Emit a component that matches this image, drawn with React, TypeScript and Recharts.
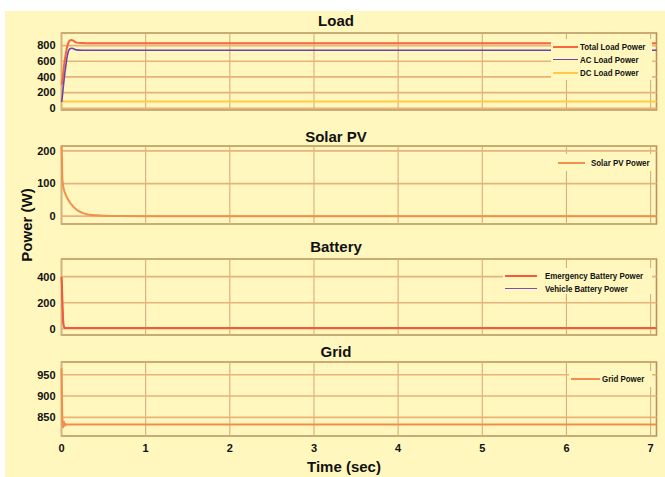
import React from 'react';
import { LineChart, Line, XAxis, YAxis, ReferenceLine, ReferenceArea } from 'recharts';

// Simulation time base (s): dense near start-up, sparse once steady
const time = [0, 0.005, 0.01, 0.02, 0.03, 0.04, 0.05, 0.06, 0.08, 0.1, 0.12, 0.14, 0.16, 0.2, 0.25, 0.3, 0.4, 0.5, 0.7, 1, 2, 3, 4, 5, 6, 7, 7.07];

// Load powers (W)
const totalLoadPower = [300, 320, 360, 450, 540, 620, 690, 750, 830, 865, 872, 862, 848, 834, 831, 830, 830, 830, 830, 830, 830, 830, 830, 830, 830, 830, 830];
const acLoadPower = [80, 100, 150, 260, 360, 450, 530, 610, 720, 760, 766, 760, 750, 742, 740, 740, 740, 740, 740, 740, 740, 740, 740, 740, 740, 740, 740];
const dcLoadPower = [85, 85, 85, 85, 85, 85, 85, 85, 85, 85, 85, 85, 85, 85, 85, 85, 85, 85, 85, 85, 85, 85, 85, 85, 85, 85, 85];

// Solar PV power (W)
const solarPvPower = [215, 180, 115, 92, 80, 72, 66, 60, 50, 42, 35, 29, 24, 16, 10, 6, 3, 1, 0.3, 0, 0, 0, 0, 0, 0, 0, 0];

// Battery powers (W)
const emergencyBatteryPower = [400, 330, 230, 60, 15, 8, 6, 5, 5, 5, 5, 5, 5, 5, 5, 5, 5, 5, 5, 5, 5, 5, 5, 5, 5, 5, 5];
const vehicleBatteryPower = [380, 300, 200, 50, 10, 4, 3, 3, 3, 3, 3, 3, 3, 3, 3, 3, 3, 3, 3, 3, 3, 3, 3, 3, 3, 3, 3];

// Grid power (W)
const gridPower = [965, 900, 845, 826, 840, 830, 834, 833, 833, 833, 833, 833, 833, 833, 833, 833, 833, 833, 833, 833, 833, 833, 833, 833, 833, 833, 833];

// Axis ticks
const timeTicks = [0, 1, 2, 3, 4, 5, 6, 7];
const loadTicks = [0, 200, 400, 600, 800];
const solarTicks = [0, 100, 200];
const batteryTicks = [0, 200, 400];
const gridTicks = [850, 900, 950];

const data = time.map((t, i) => ({
  t,
  total: totalLoadPower[i],
  ac: acLoadPower[i],
  dc: dcLoadPower[i],
  pv: solarPvPower[i],
  emergency: emergencyBatteryPower[i],
  vehicle: vehicleBatteryPower[i],
  grid: gridPower[i],
}));

const BG = '#FFF7BE';
const FONT = '"Liberation Sans", Arial, sans-serif';
const X_MAX = 7.07;

type Series = { key: string; name: string; color: string; width: number };

type LegendBox = {
  left: number; top: number; width: number; height: number;
  lineLeft: number; lineWidth: number; textLeft: number; rowTops: number[];
};

type PanelProps = {
  title: string;
  titleTop: number;
  top: number;
  plotHeight: number;
  domain: [number, number];
  ticks: number[];
  series: Series[];
  legendOrder: string[];
  legend: LegendBox;
  showTime?: boolean;
};

function Panel({ title, titleTop, top, plotHeight, domain, ticks, series, legendOrder, legend, showTime }: PanelProps) {
  const marginTop = 5;
  const xAxisHeight = showTime ? 22 : 0;
  const marginBottom = showTime ? 0 : 5;
  const height = marginTop + plotHeight + xAxisHeight + marginBottom;
  const legendSeries = legendOrder.map((k) => series.find((s) => s.key === k)!);
  return (
    <>
      <div
        style={{
          position: 'absolute', left: 0, width: 672, top: titleTop, textAlign: 'center',
          fontFamily: FONT, fontWeight: 700, fontSize: 15, color: '#111', lineHeight: '18px',
        }}
      >
        {title}
      </div>
      <div style={{ position: 'absolute', left: 0, top: top - marginTop }}>
        <LineChart width={665} height={height} data={data} margin={{ top: marginTop, right: 8.5, bottom: marginBottom, left: 21.5 }}>
          <XAxis
            dataKey="t"
            type="number"
            domain={[0, X_MAX]}
            ticks={timeTicks}
            interval={0}
            hide={!showTime}
            height={xAxisHeight}
            axisLine={false}
            tickLine={false}
            tickSize={0}
            tickMargin={8}
            tick={{ fontSize: 11, fontWeight: 700, fill: '#111', fontFamily: FONT }}
          />
          <YAxis
            type="number"
            domain={domain}
            ticks={ticks}
            interval={0}
            width={40}
            axisLine={false}
            tickLine={false}
            tickSize={0}
            tickMargin={6}
            allowDataOverflow
            tick={{ fontSize: 11, fontWeight: 700, fill: '#111', fontFamily: FONT }}
          />
          {timeTicks.map((v) => (
            <ReferenceLine key={`vx${v}`} x={v} stroke="#D8AE7C" strokeWidth={1.1} ifOverflow="visible" />
          ))}
          {ticks.map((v) => (
            <ReferenceLine key={`hy${v}`} y={v} stroke="#E8B27C" strokeWidth={1.7} />
          ))}
          {series.map((s) => (
            <Line
              key={s.key}
              dataKey={s.key}
              name={s.name}
              type="monotone"
              stroke={s.color}
              strokeWidth={s.width}
              dot={false}
              activeDot={false}
              isAnimationActive={false}
            />
          ))}
          <ReferenceArea
            x1={0}
            x2={X_MAX}
            y1={domain[0]}
            y2={domain[1]}
            fill="none"
            stroke="#B8925C"
            strokeWidth={1.6}
            ifOverflow="visible"
          />
        </LineChart>
      </div>
      <div
        style={{
          position: 'absolute', left: legend.left, top: legend.top, width: legend.width, height: legend.height,
          background: BG,
        }}
      >
        {legendSeries.map((s, i) => (
          <div key={s.key}>
            <div
              style={{
                position: 'absolute', left: legend.lineLeft - legend.left, top: legend.rowTops[i] - legend.top - 1,
                width: legend.lineWidth, height: 0, borderTop: `${Math.max(1.5, s.width)}px solid ${s.color}`,
              }}
            />
            <div
              style={{
                position: 'absolute', left: legend.textLeft - legend.left, top: legend.rowTops[i] - legend.top - 6,
                fontFamily: FONT, fontWeight: 700, fontSize: 9, lineHeight: '12px', color: '#111', whiteSpace: 'nowrap',
                transform: 'scaleX(0.88)', transformOrigin: 'left center',
              }}
            >
              {s.name}
            </div>
          </div>
        ))}
      </div>
    </>
  );
}

export default function App() {
  return (
    <div style={{ position: 'absolute', left: 0, top: 0, width: 665, height: 477, background: '#fff', overflow: 'hidden' }}>
      <div style={{ position: 'absolute', left: 5, top: 11, width: 660, height: 466, background: BG }} />

      <Panel
        title="Load"
        titleTop={12}
        top={33}
        plotHeight={77}
        domain={[-22, 960]}
        ticks={loadTicks}
        series={[
          { key: 'dc', name: 'DC Load Power', color: '#FFC94A', width: 2 },
          { key: 'total', name: 'Total Load Power', color: '#F4673F', width: 2 },
          { key: 'ac', name: 'AC Load Power', color: '#6B44A8', width: 1.6 },
        ]}
        legendOrder={['total', 'ac', 'dc']}
        legend={{ left: 551, top: 39, width: 101, height: 41, lineLeft: 553, lineWidth: 25, textLeft: 580, rowTops: [47, 60, 73] }}
      />

      <Panel
        title="Solar PV"
        titleTop={128}
        top={146}
        plotHeight={78}
        domain={[-24, 215]}
        ticks={solarTicks}
        series={[{ key: 'pv', name: 'Solar PV Power', color: '#F2904E', width: 2 }]}
        legendOrder={['pv']}
        legend={{ left: 553, top: 154, width: 99, height: 17, lineLeft: 558, lineWidth: 27, textLeft: 591, rowTops: [163] }}
      />

      <Panel
        title="Battery"
        titleTop={238}
        top={259}
        plotHeight={76}
        domain={[-48, 536]}
        ticks={batteryTicks}
        series={[
          { key: 'vehicle', name: 'Vehicle Battery Power', color: '#7A4FB5', width: 1.2 },
          { key: 'emergency', name: 'Emergency Battery Power', color: '#F35A3A', width: 2 },
        ]}
        legendOrder={['emergency', 'vehicle']}
        legend={{ left: 503, top: 268, width: 149, height: 26, lineLeft: 505, lineWidth: 32, textLeft: 545, rowTops: [276, 288.5] }}
      />

      <Panel
        title="Grid"
        titleTop={343}
        top={362}
        plotHeight={74}
        domain={[806, 980]}
        ticks={gridTicks}
        series={[{ key: 'grid', name: 'Grid Power', color: '#F28D4E', width: 2 }]}
        legendOrder={['grid']}
        legend={{ left: 569, top: 371, width: 83, height: 16, lineLeft: 571, lineWidth: 29, textLeft: 602, rowTops: [379] }}
        showTime
      />

      <div
        style={{
          position: 'absolute', left: 244, width: 200, top: 458, textAlign: 'center',
          fontFamily: FONT, fontWeight: 700, fontSize: 15, color: '#111', lineHeight: '18px',
        }}
      >
        Time (sec)
      </div>
      <div
        style={{
          position: 'absolute', left: 27 - 60, top: 225 - 9, width: 120, textAlign: 'center',
          transform: 'rotate(-90deg)', fontFamily: FONT, fontWeight: 700, fontSize: 15, color: '#111', lineHeight: '18px',
        }}
      >
        Power (W)
      </div>
    </div>
  );
}
